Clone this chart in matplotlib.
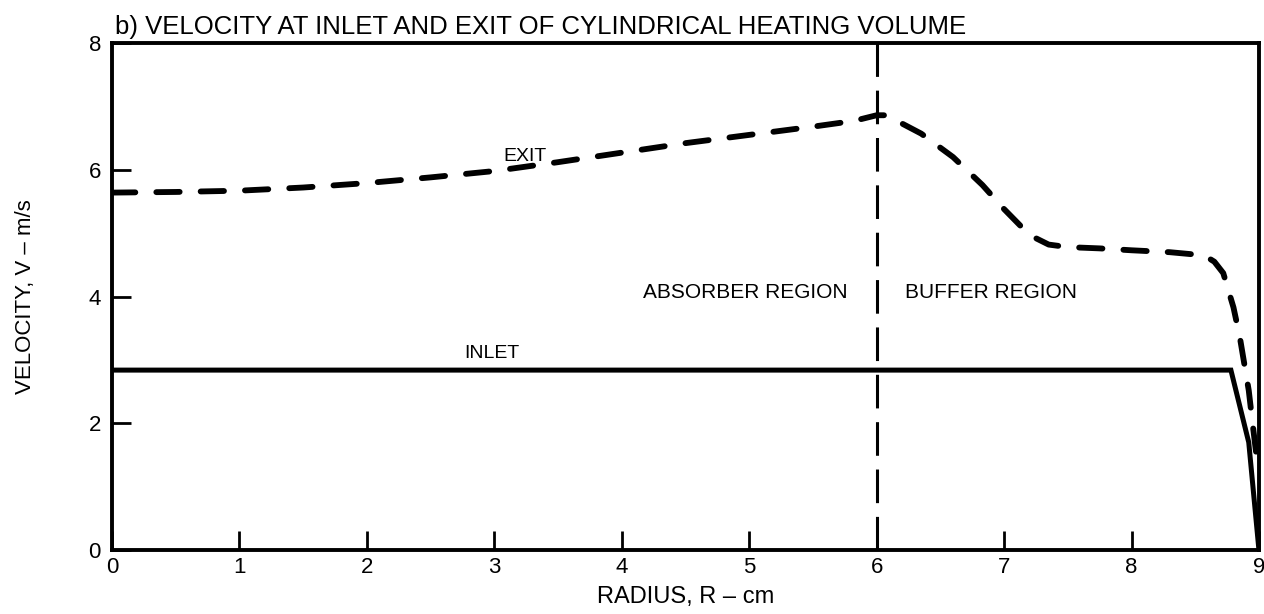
import numpy as np
import matplotlib.pyplot as plt

plt.rcParams['font.family'] = ['Liberation Sans', 'DejaVu Sans']

# exit velocity profile
exit_r = [0.0, 0.5, 1.0, 1.5, 2.0, 2.5, 3.0, 3.5, 4.0, 4.5, 5.0, 5.5, 5.82,
          6.0, 6.08, 6.17, 6.35, 6.6, 6.83, 7.0, 7.2, 7.35, 7.5, 7.75, 8.0,
          8.3, 8.57, 8.65, 8.72, 8.8, 8.85, 8.92, 8.95, 8.98]
exit_v = [5.64, 5.65, 5.67, 5.72, 5.79, 5.88, 5.98, 6.12, 6.27, 6.42, 6.55, 6.68, 6.77,
          6.86, 6.86, 6.76, 6.57, 6.2, 5.76, 5.38, 4.97, 4.82, 4.78, 4.76, 4.73,
          4.7, 4.65, 4.55, 4.37, 3.83, 3.36, 2.52, 2.0, 1.5]

# inlet velocity profile
inlet_r = [0.0, 8.78, 8.92, 9.0]
inlet_v = [2.84, 2.84, 1.7, 0.0]

boundary_r = 6.0
x_ticks = list(range(0, 10))
y_ticks = [0, 2, 4, 6, 8]

fig = plt.figure(figsize=(12.64, 6.14), dpi=100)
ax = fig.add_axes([0.0886, 0.104, 0.9074, 0.826])

ax.plot(exit_r, exit_v, color='black', lw=4.2, dash_capstyle='round',
        linestyle=(0, (4.0, 3.6)))
ax.plot(inlet_r, inlet_v, color='black', lw=3.6, solid_joinstyle='miter')
ax.axvline(boundary_r, color='black', lw=2.2, linestyle=(0, (11, 4.5)))

ax.text(3.24, 6.21, 'EXIT', fontsize=14, ha='center', va='center')
ax.text(2.98, 3.1, 'INLET', fontsize=14, ha='center', va='center')
ax.text(4.97, 4.07, 'ABSORBER REGION', fontsize=15, ha='center', va='center')
ax.text(6.9, 4.07, 'BUFFER REGION', fontsize=15, ha='center', va='center')

ax.set_xlim(0, 9)
ax.set_ylim(0, 8)
ax.set_xticks(x_ticks)
ax.set_yticks(y_ticks)
ax.tick_params(direction='in', length=14, width=2, labelsize=16)
ax.tick_params(axis='x', pad=5)
ax.tick_params(axis='y', pad=8)
for s in ax.spines.values():
    s.set_linewidth(2.8)

ax.set_xlabel('RADIUS, R \u2013 cm', fontsize=17, labelpad=6)
ax.set_ylabel('VELOCITY, V \u2013 m/s', fontsize=16, labelpad=38)
fig.text(0.091, 0.945, 'b) VELOCITY AT INLET AND EXIT OF CYLINDRICAL HEATING VOLUME',
         fontsize=18.5, ha='left', va='baseline')

fig.savefig('out.png', dpi=100)
